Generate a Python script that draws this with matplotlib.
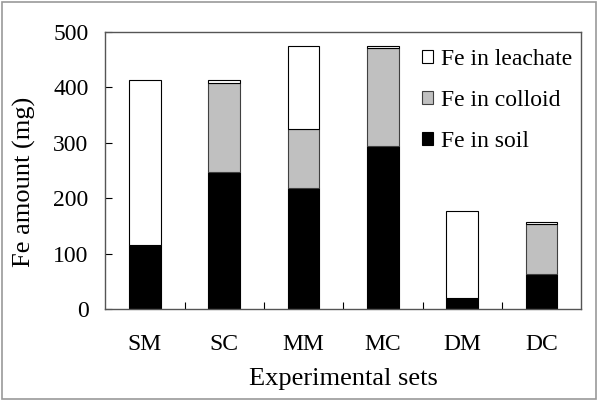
import numpy as np
import matplotlib.pyplot as plt
from matplotlib.patches import Rectangle

plt.rcParams['font.family'] = ['Liberation Serif', 'DejaVu Serif']

sets = ['SM', 'SC', 'MM', 'MC', 'DM', 'DC']
fe_soil = [115, 248, 219, 294, 20, 64]
fe_colloid = [0, 161, 106, 177, 0, 89]
fe_leachate = [299, 4, 149, 3, 157, 5]

x = np.arange(len(sets))
soil = np.array(fe_soil)
colloid = np.array(fe_colloid)
leach = np.array(fe_leachate)

fig = plt.figure(figsize=(5.98, 4.01), dpi=100)
ax = fig.add_axes([0.176, 0.229, 0.796, 0.691])

w = 0.4
b1 = ax.bar(x, soil, w, color='black', edgecolor='black', linewidth=0.8, label='Fe in soil')
b2 = ax.bar(x, colloid, w, bottom=soil, color='#c0c0c0', edgecolor='#404040', linewidth=0.8, label='Fe in colloid')
b3 = ax.bar(x, leach, w, bottom=soil + colloid, color='white', edgecolor='black', linewidth=0.8, label='Fe in leachate')

ax.set_xlim(-0.5, 5.5)
ax.set_ylim(0, 500)
ax.set_yticks([0, 100, 200, 300, 400, 500])
ax.tick_params(axis='y', direction='in', length=5, labelsize=17, pad=12)

# ticks between categories, labels centred under bars
ax.set_xticks(x[:-1] + 0.5)
ax.set_xticklabels([])
ax.tick_params(axis='x', which='major', direction='in', length=5)
ax.set_xticks(x, minor=True)
ax.set_xticklabels(sets, minor=True)
ax.tick_params(axis='x', which='minor', length=0, labelsize=17, pad=18)

for s in ax.spines.values():
    s.set_color('#555555')
    s.set_linewidth(1)

ax.set_xlabel('Experimental sets', fontsize=19, labelpad=9)
ax.set_ylabel('Fe amount (mg)', fontsize=19)
ax.yaxis.set_label_coords(-0.145, 0.46)

ax.legend([b3, b2, b1], ['Fe in leachate', 'Fe in colloid', 'Fe in soil'],
          loc='upper right', bbox_to_anchor=(1.0, 0.973), frameon=False, fontsize=17,
          handlelength=0.5, handleheight=0.5, handletextpad=0.3,
          labelspacing=0.85, borderaxespad=0)

fig.patches.append(Rectangle((0.003, 0.004), 0.994, 0.99, transform=fig.transFigure,
                             fill=False, edgecolor='#999999', linewidth=1.2))

plt.savefig('out.png', dpi=100)
